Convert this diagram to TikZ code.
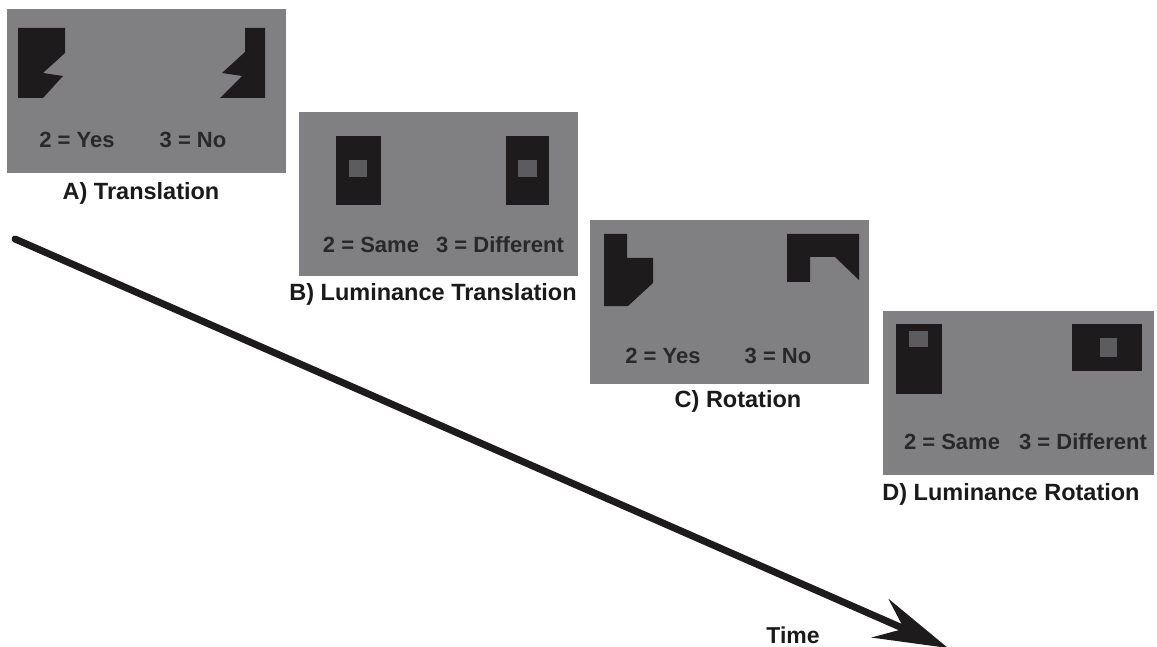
\documentclass[tikz,border=0pt]{standalone}
\usepackage{fontspec}
\setmainfont{Liberation Sans}
\usetikzlibrary{arrows.meta}
\definecolor{panelgray}{RGB}{128,128,130}
\definecolor{shapedark}{RGB}{30,27,29}
\definecolor{innergray}{RGB}{92,92,94}
\definecolor{paneltext}{RGB}{40,40,42}
\definecolor{captext}{RGB}{26,26,26}
\tikzset{
  panel/.style={fill=panelgray, draw=none},
  darkshape/.style={fill=shapedark, draw=none},
  innersq/.style={fill=innergray, draw=none},
  resp/.style={font=\fontsize{22}{24}\selectfont\bfseries, text=paneltext, inner sep=0pt, anchor=center},
  caption/.style={font=\fontsize{23.5}{26}\selectfont\bfseries, text=captext, inner sep=0pt, anchor=center},
  timearrow/.style={line width=7pt, draw=shapedark, line cap=round,
    -{Stealth[length=74pt, width=42pt, inset=26pt]}}
}
\begin{document}
\begin{tikzpicture}[x=1pt, y=-1pt]
\useasboundingbox (0,0) rectangle (1157,647);
\fill[white] (0,0) rectangle (1157,647);

% ---------- Panel A ----------
\node[panel, minimum width=279pt, minimum height=164pt, inner sep=0pt, anchor=north west] (pA) at (7,9) {};
\fill[darkshape] (18,28) -- (65,28) -- (65,53) -- (43,73) -- (63,76) -- (43,98) -- (18,98) -- cycle;
\fill[darkshape] (245,28) -- (265,28) -- (265,98) -- (220,98) -- (242,76) -- (222,73) -- (245,52) -- cycle;
\node[resp] (a2) at (77,140) {2 = Yes};
\node[resp] (a3) at (193,140) {3 = No};
\node[caption] (capA) at (141,193) {A) Translation};

% ---------- Panel B ----------
\node[panel, minimum width=279pt, minimum height=164pt, inner sep=0pt, anchor=north west] (pB) at (299,112) {};
\fill[darkshape] (336,136) rectangle (381,205);
\fill[innersq] (349,160) rectangle (367,177);
\fill[darkshape] (506,136) rectangle (549,205);
\fill[innersq] (518,160) rectangle (537,177);
\node[resp] (b2) at (371,245) {2 = Same};
\node[resp] (b3) at (500,245) {3 = Different};
\node[caption] (capB) at (433,294) {B) Luminance Translation};

% ---------- Panel C ----------
\node[panel, minimum width=279pt, minimum height=164pt, inner sep=0pt, anchor=north west] (pC) at (590,220) {};
\fill[darkshape] (604,234) -- (627,234) -- (627,258) -- (653,258) -- (653,283) -- (628,306) -- (604,306) -- cycle;
\fill[darkshape] (787,234) -- (859,234) -- (859,280) -- (835,257) -- (810,257) -- (810,282) -- (787,282) -- cycle;
\node[resp] (c2) at (663,356) {2 = Yes};
\node[resp] (c3) at (778,356) {3 = No};
\node[caption] (capC) at (738,401) {C) Rotation};

% ---------- Panel D ----------
\node[panel, minimum width=271pt, minimum height=164pt, inner sep=0pt, anchor=north west] (pD) at (883,311) {};
\fill[darkshape] (896,324) rectangle (942,394);
\fill[innersq] (909,331) rectangle (928,347);
\fill[darkshape] (1072,324) rectangle (1142,371);
\fill[innersq] (1100,338) rectangle (1117,357);
\node[resp] (d2) at (952,442) {2 = Same};
\node[resp] (d3) at (1083,442) {3 = Different};
\node[caption] (capD) at (1011,494) {D) Luminance Rotation};

% ---------- Time arrow ----------
\coordinate (tstart) at (15,239);
\coordinate (tend) at (948,648);
\draw[timearrow] (tstart) -- (tend);
\node[caption, font=\fontsize{23}{25}\selectfont\bfseries] (time) at (793,635) {Time};
\end{tikzpicture}
\end{document}
